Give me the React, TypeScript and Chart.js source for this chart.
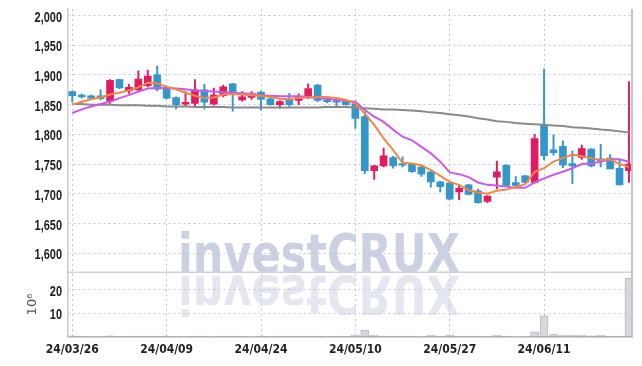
import React, { useEffect, useRef } from 'react';
import { Chart, registerables } from 'chart.js';

Chart.register(...registerables);

const dates = ['24/03/26','24/03/27','24/03/28','24/03/29','24/04/01','24/04/02','24/04/03','24/04/04','24/04/05','24/04/08',
  '24/04/09','24/04/11','24/04/12','24/04/15','24/04/16','24/04/17','24/04/18','24/04/19','24/04/22','24/04/23',
  '24/04/24','24/04/25','24/04/26','24/04/29','24/04/30','24/05/02','24/05/03','24/05/07','24/05/08','24/05/09',
  '24/05/10','24/05/13','24/05/14','24/05/16','24/05/17','24/05/20','24/05/21','24/05/22','24/05/23','24/05/24',
  '24/05/27','24/05/28','24/05/29','24/05/30','24/05/31','24/06/03','24/06/04','24/06/05','24/06/07','24/06/10',
  '24/06/11','24/06/12','24/06/13','24/06/14','24/06/17','24/06/18','24/06/19','24/06/20','24/06/21','24/06/24'];

const opens = [1872,1866,1865,1865,1856,1892,1873,1875,1882,1900, 1879,1862,1851,1852,1875,1851,1865,1885,1858,1862,
  1871,1860,1850,1858,1857,1862,1883,1858,1857,1855, 1852,1830,1739,1747,1761,1751,1750,1745,1737,1720,
  1718,1703,1715,1705,1687,1728,1748,1719,1730,1719, 1815,1774,1780,1751,1761,1775,1759,1760,1743,1739];
const highs = [1873,1868,1866,1875,1892,1893,1884,1907,1908,1915, 1880,1863,1872,1892,1884,1878,1883,1886,1872,1872,
  1873,1861,1857,1869,1868,1885,1884,1860,1859,1856, 1855,1838,1748,1777,1763,1762,1751,1746,1738,1721,
  1719,1716,1716,1708,1697,1755,1749,1729,1731,1800, 1910,1799,1789,1772,1782,1776,1783,1766,1758,1889];
const lows = [1854,1861,1859,1858,1852,1877,1869,1873,1880,1873, 1860,1843,1848,1846,1843,1849,1863,1839,1856,1859,
  1841,1849,1844,1847,1850,1860,1855,1853,1848,1849, 1810,1734,1724,1745,1743,1745,1736,1729,1711,1703,
  1690,1690,1698,1684,1685,1708,1713,1712,1718,1718, 1757,1765,1744,1717,1758,1745,1745,1742,1715,1719];
const closes = [1865,1863,1861,1860,1891,1878,1879,1893,1898,1876, 1861,1850,1854,1875,1854,1866,1880,1869,1863,1868,
  1859,1850,1855,1850,1864,1877,1857,1855,1854,1850, 1827,1739,1747,1764,1747,1748,1737,1733,1720,1712,
  1691,1709,1699,1685,1696,1737,1714,1714,1719,1793, 1764,1769,1748,1747,1776,1747,1755,1742,1715,1750];

const ma5 = [1850,1855,1859,1862,1867,1870,1874,1879,1887,1886, 1880,1876,1870,1865,1861,1862,1867,1868,1867,1866,
  1865,1863,1860,1859,1861,1862,1863,1863,1861,1858, 1852,1835,1816,1793,1774,1752,1751,1748,1740,1730,
  1720,1715,1706,1702,1700,1705,1707,1711,1716,1737, 1743,1754,1760,1766,1763,1760,1757,1758,1750,1745];
const ma10 = [1836,1842,1847,1851,1855,1861,1866,1872,1877,1878, 1878,1877,1876,1874,1873,1872,1871,1870,1869,1868,
  1866,1865,1864,1864,1864,1863,1861,1860,1858,1856, 1855,1841,1830,1821,1808,1796,1790,1779,1768,1754,
  1736,1733,1728,1719,1715,1714,1712,1710,1710,1719, 1726,1732,1737,1743,1750,1751,1754,1758,1758,1754];
const maLong = [1851,1851,1850,1850,1850,1849,1849,1849,1848,1848, 1847,1847,1847,1846,1846,1846,1846,1845,1845,1845,
  1845,1845,1845,1845,1845,1845,1845,1846,1846,1846, 1845,1844,1843,1842,1842,1841,1840,1839,1837,1836,
  1834,1832,1830,1827,1825,1822,1821,1819,1818,1817, 1816,1815,1814,1812,1811,1810,1808,1807,1805,1803];
const volumes = [0.4,0.1,0.1,0.1,0.4,0.2,0.3,0.3,0.3,0.3, 0.3,0.1,0.1,0.3,0.3,0.1,0.3,0.3,0.1,0.1,
  0.3,0.1,0.3,0.3,0.3,0.3,0.3,0.1,0.3,0.2, 0.7,2.8,0.7,0.3,0.3,0.3,0.3,0.1,0.7,0.3,
  0.7,0.3,0.3,0.3,0.1,0.7,0.3,0.1,0.1,2.1, 8.8,1.1,0.7,0.7,0.7,0.4,0.7,0.3,0.3,24.7];

const UP = '#e31b63';
const DOWN = '#3497c9';
const GRID = '#c3c7dc';
const LABEL_FONT = 'bold 15px "Liberation Sans", Arial, sans-serif';

export default function App() {
  const ref = useRef<HTMLCanvasElement>(null);

  useEffect(() => {
    if (!ref.current) return;
    const idx = dates.map((_, i) => i);
    const colors = idx.map((i) => (closes[i] >= opens[i] ? UP : DOWN));

    const watermark = {
      id: 'watermark',
      beforeDraw(chart: any) {
        const ctx = chart.ctx;
        const text = 'investCRUX';
        ctx.save();
        ctx.font = 'bold 54px "DejaVu Sans"';
        const w = ctx.measureText(text).width;
        const sx = 282 / w;
        ctx.translate(170, 264);
        ctx.scale(sx, 1);
        ctx.textBaseline = 'alphabetic';
        ctx.fillStyle = '#cbd0e3';
        ctx.fillText(text, 0, 0);
        ctx.translate(0, 4);
        ctx.scale(1, -1);
        ctx.fillStyle = '#e5e7f0';
        ctx.fillText(text, 0, 0);
        ctx.restore();
      },
    };

    const drawAxisLabels = (ctx: any, scale: any, fmt: (v: number) => string) => {
      for (const t of scale.ticks) {
        const label = fmt(t.value);
        if (!label) continue;
        const y = scale.getPixelForValue(t.value);
        ctx.save();
        ctx.translate(scale.right - 6, y + 2);
        ctx.scale(0.73, 1);
        ctx.font = LABEL_FONT;
        ctx.fillStyle = '#1e1e1e';
        ctx.textAlign = 'right';
        ctx.textBaseline = 'middle';
        ctx.fillText(label, 0, 0);
        ctx.restore();
      }
    };

    const frame = {
      id: 'frame',
      afterDatasetsDraw(chart: any) {
        const ctx = chart.ctx;
        const a = chart.chartArea;
        const vol = chart.scales.vol;
        ctx.save();
        ctx.strokeStyle = '#cfd1da';
        ctx.lineWidth = 1.5;
        ctx.beginPath();
        ctx.moveTo(a.left, vol.top);
        ctx.lineTo(a.right, vol.top);
        ctx.stroke();
        ctx.strokeStyle = '#c4c4c8';
        ctx.lineWidth = 2;
        ctx.beginPath();
        ctx.moveTo(a.right, a.top);
        ctx.lineTo(a.right, a.bottom);
        ctx.stroke();
        ctx.restore();
        drawAxisLabels(ctx, chart.scales.y, (v) => v.toLocaleString('en-US'));
        drawAxisLabels(ctx, vol, (v) => (v === 0 ? '' : String(v)));
        // volume unit label
        ctx.save();
        ctx.translate(25, (vol.top + vol.bottom) / 2);
        ctx.rotate(-Math.PI / 2);
        ctx.fillStyle = '#555';
        ctx.font = '13px "DejaVu Sans"';
        ctx.textAlign = 'center';
        ctx.textBaseline = 'middle';
        ctx.fillText('10⁶', 0, 0);
        ctx.restore();
      },
    };

    const tickFontX = { family: '"DejaVu Sans Condensed", "Liberation Sans Narrow", sans-serif', size: 12, weight: 'bold' as const };

    const chart = new Chart(ref.current, {
      type: 'bar',
      data: {
        datasets: [
          {
            type: 'line',
            data: idx.map((i) => ({ x: i, y: ma5[i] })),
            borderColor: '#ef874a',
            borderWidth: 2,
            pointRadius: 0,
            yAxisID: 'y',
            order: 0,
          } as any,
          {
            type: 'line',
            data: idx.map((i) => ({ x: i, y: ma10[i] })),
            borderColor: '#c95ae8',
            borderWidth: 2,
            pointRadius: 0,
            yAxisID: 'y',
            order: 0,
          } as any,
          {
            type: 'line',
            data: idx.map((i) => ({ x: i, y: maLong[i] })),
            borderColor: '#8a8a8c',
            borderWidth: 2,
            pointRadius: 0,
            yAxisID: 'y',
            order: 0,
          } as any,
          {
            type: 'bar',
            data: idx.map((i) => ({ x: i, y: [opens[i], closes[i]] })),
            backgroundColor: colors,
            barThickness: 7,
            grouped: false,
            yAxisID: 'y',
            order: 1,
          } as any,
          {
            type: 'bar',
            data: idx.map((i) => ({ x: i, y: [lows[i], highs[i]] })),
            backgroundColor: colors,
            barThickness: 1.3,
            grouped: false,
            yAxisID: 'y',
            order: 2,
          } as any,
          {
            type: 'bar',
            data: idx.map((i) => ({ x: i, y: volumes[i] })),
            backgroundColor: '#d7d7de',
            borderColor: '#b9b9c2',
            borderWidth: 1,
            barThickness: 8,
            grouped: false,
            yAxisID: 'vol',
            order: 3,
          } as any,
        ],
      },
      options: {
        animation: false,
        responsive: false,
        layout: { padding: { top: 1, right: 2, left: 0, bottom: 0 } },
        plugins: { legend: { display: false }, tooltip: { enabled: false } },
        scales: {
          x: {
            type: 'linear',
            min: -0.455,
            max: 59.32,
            offset: false,
            ticks: {
              stepSize: 10,
              includeBounds: false,
              autoSkip: false,
              maxRotation: 0,
              color: '#222',
              font: tickFontX,
              padding: 6,
              callback: (v: any) => (dates[v] !== undefined && v % 10 === 0 ? dates[v] : ''),
            },
            grid: { color: GRID, drawTicks: false, offset: false },
            border: { display: true, color: '#a9a9b0', width: 1.5, dash: [2, 3] },
            afterFit: (s: any) => { s.height = 21.3; },
          },
          vol: {
            type: 'linear',
            position: 'left',
            stack: 'panels',
            stackWeight: 64.4,
            min: 0,
            max: 27.3,
            ticks: { stepSize: 10, includeBounds: false, display: false },
            grid: { color: GRID, drawTicks: false },
            border: { display: true, color: '#c8cbdc', width: 1.5, dash: [2, 3] },
            afterFit: (s: any) => { s.width = 60; },
          },
          y: {
            type: 'linear',
            position: 'left',
            stack: 'panels',
            stackWeight: 263.3,
            min: 1567.8,
            max: 2011,
            ticks: { stepSize: 50, includeBounds: false, display: false },
            grid: { color: GRID, drawTicks: false },
            border: { display: true, color: '#c8cbdc', width: 1.5, dash: [2, 3] },
            afterFit: (s: any) => { s.width = 60; },
          },
        },
      } as any,
      plugins: [watermark, frame],
    });

    return () => chart.destroy();
  }, []);

  return (
    <div style={{ width: 626, height: 350 }}>
      <canvas ref={ref} width={626} height={350} style={{ display: 'block' }} />
    </div>
  );
}
